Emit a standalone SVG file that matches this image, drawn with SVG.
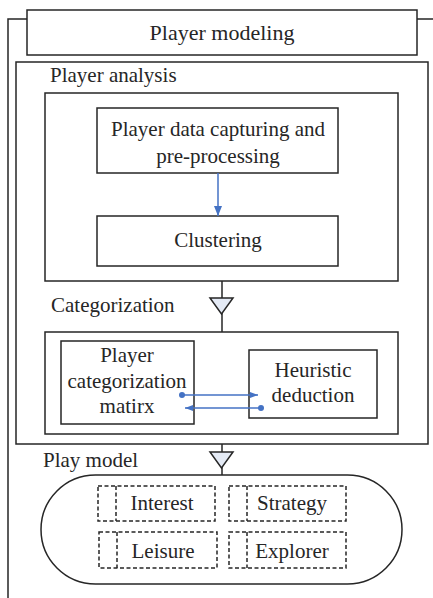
<svg xmlns="http://www.w3.org/2000/svg" width="433" height="598" viewBox="0 0 433 598">
<style>
.box{fill:#fff;stroke:#262626;stroke-width:1.5}
.dash{fill:none;stroke:#262626;stroke-width:1.5;stroke-dasharray:4 2.5}
.ln{fill:none;stroke:#262626;stroke-width:1.5}
.blue{fill:none;stroke:#4472c4;stroke-width:1.5}
.tri{fill:#e4eaf5;stroke:#262626;stroke-width:1.5}
text{font-size:21px;fill:#262626}
.c{text-anchor:middle}
</style>
<defs>
<marker id="ah" viewBox="0 0 10 10" refX="10" refY="5" markerWidth="10" markerHeight="8" orient="auto" markerUnits="userSpaceOnUse" preserveAspectRatio="none">
<path d="M0,0 L10,5 L0,10 z" fill="#4472c4"/>
</marker>
<marker id="ahs" viewBox="0 0 10 10" refX="10" refY="5" markerWidth="8" markerHeight="6" orient="auto" markerUnits="userSpaceOnUse" preserveAspectRatio="none">
<path d="M0,0 L10,5 L0,10 z" fill="#4472c4"/>
</marker>
<marker id="dot" viewBox="0 0 10 10" refX="5" refY="5" markerWidth="6" markerHeight="6" markerUnits="userSpaceOnUse">
<circle cx="5" cy="5" r="5" fill="#4472c4"/>
</marker>
</defs>
<g font-family="'Liberation Serif', Tinos, 'Times New Roman', 'DejaVu Serif', serif">
<g id="frame">
<path class="ln" d="M8,598 V19 H27 M417,19 H433"/>
</g>
<g id="player-modeling">
<rect class="box" x="27" y="10" width="390" height="45"/>
<text class="c" x="222" y="40" style="font-size:22px">Player modeling</text>
</g>
<g id="outer-analysis">
<rect class="box" x="16" y="62" width="412" height="382"/>
<text x="50" y="82">Player analysis</text>
<text x="51" y="312">Categorization</text>
</g>
<g id="analysis">
<rect class="box" x="45" y="93" width="353" height="188"/>
</g>
<g id="capture">
<rect class="box" x="97" y="108" width="241" height="65"/>
<text class="c" x="218" y="136">Player data capturing and</text>
<text class="c" x="218" y="163">pre-processing</text>
</g>
<g id="clustering">
<rect class="box" x="97" y="216" width="241" height="50"/>
<text class="c" x="218" y="247">Clustering</text>
</g>
<g id="categorization">
<rect class="box" x="45" y="332" width="353" height="102"/>
</g>
<g id="matrix">
<rect class="box" x="61" y="341" width="133" height="83"/>
<text class="c" x="127" y="362">Player</text>
<text class="c" x="127" y="388">categorization</text>
<text class="c" x="127" y="413">matirx</text>
</g>
<g id="heuristic">
<rect class="box" x="249" y="350" width="128" height="68"/>
<text class="c" x="313" y="377">Heuristic</text>
<text class="c" x="313" y="402">deduction</text>
</g>
<g id="play-model">
<text x="43" y="467">Play model</text>
<rect class="box" x="41" y="475" width="361" height="109" rx="54.5" ry="54.5"/>
</g>
<g id="interest">
<rect class="dash" x="98" y="486" width="117" height="35"/>
<path class="dash" d="M116,486 V521"/>
<text class="c" x="162" y="510">Interest</text>
</g>
<g id="strategy">
<rect class="dash" x="229" y="486" width="117" height="35"/>
<path class="dash" d="M247,486 V521"/>
<text class="c" x="292" y="510">Strategy</text>
</g>
<g id="leisure">
<rect class="dash" x="99" y="532" width="118" height="36"/>
<path class="dash" d="M117,532 V568"/>
<text class="c" x="163" y="558">Leisure</text>
</g>
<g id="explorer">
<rect class="dash" x="229" y="532" width="117" height="36"/>
<path class="dash" d="M247,532 V568"/>
<text class="c" x="292" y="558">Explorer</text>
</g>
<g id="connectors">
<path class="blue" d="M218,173 V216" marker-end="url(#ah)"/>
<path class="ln" d="M222,281 V332"/>
<path class="tri" d="M210,298 H233 L221.5,314 z"/>
<path class="ln" d="M222,444 V475"/>
<path class="tri" d="M210,452 H233 L221.5,468 z"/>
<path class="blue" d="M182,395 H258" marker-start="url(#dot)" marker-end="url(#ahs)"/>
<path class="blue" d="M261,408 H185" marker-start="url(#dot)" marker-end="url(#ahs)"/>
</g>
</g>
</svg>
